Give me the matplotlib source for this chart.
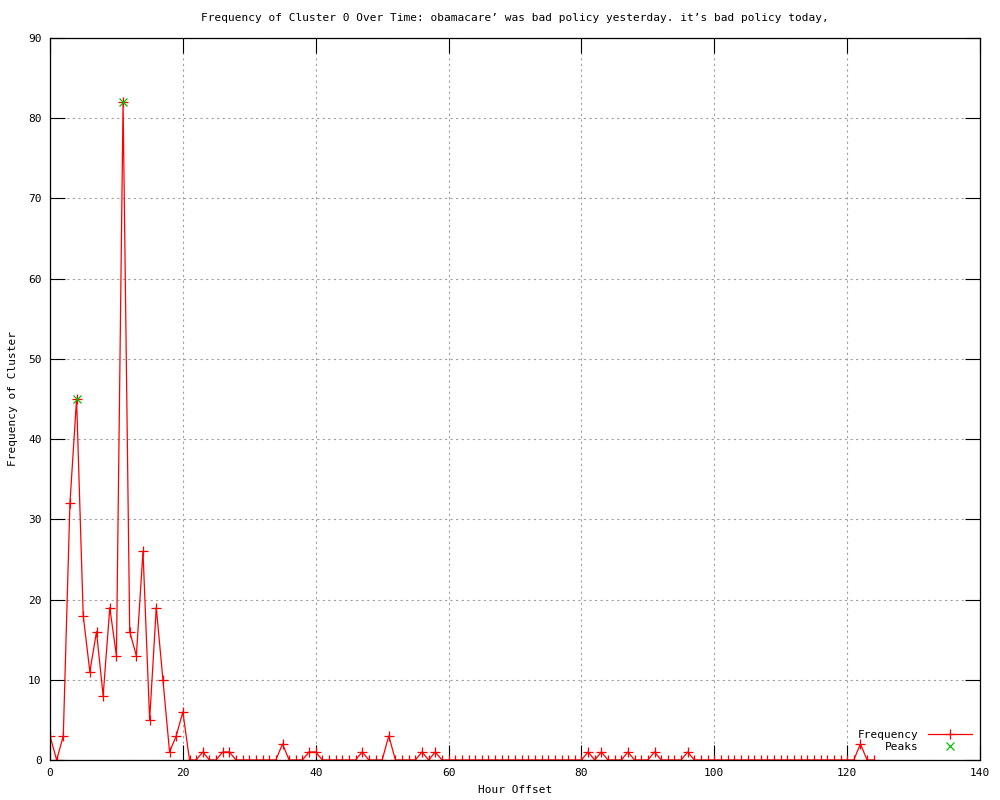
import matplotlib.pyplot as plt

# hourly frequency of cluster 0
hours = list(range(125))
freq = [3, 0, 3, 32, 45, 18, 11, 16, 8, 19,
        13, 82, 16, 13, 26, 5, 19, 10, 1, 3,
        6, 0, 0, 1, 0, 0, 1, 1, 0, 0,
        0, 0, 0, 0, 0, 2, 0, 0, 0, 1,
        1, 0, 0, 0, 0, 0, 0, 1, 0, 0,
        0, 3, 0, 0, 0, 0, 1, 0, 1, 0,
        0, 0, 0, 0, 0, 0, 0, 0, 0, 0,
        0, 0, 0, 0, 0, 0, 0, 0, 0, 0,
        0, 1, 0, 1, 0, 0, 0, 1, 0, 0,
        0, 1, 0, 0, 0, 0, 1, 0, 0, 0,
        0, 0, 0, 0, 0, 0, 0, 0, 0, 0,
        0, 0, 0, 0, 0, 0, 0, 0, 0, 0,
        0, 0, 2, 0, 0]
peak_hours = [4, 11]
peak_vals = [45, 82]

title = "Frequency of Cluster 0 Over Time: obamacare\u2019 was bad policy yesterday. it\u2019s bad policy today,"

plt.rcParams['font.family'] = ['DejaVu Sans Mono']
plt.rcParams['font.size'] = 8

fig = plt.figure(figsize=(10, 8), dpi=100)
ax = fig.add_axes([0.05, 0.05, 0.93, 0.9025])

ax.plot(hours, freq, color='red', lw=0.9, marker='+', ms=7, mew=0.9, label='Frequency')
ax.plot(peak_hours, peak_vals, ls='none', color='#00c000', marker='x', ms=6, mew=0.9, label='Peaks')

ax.set_xlim(0, 140)
ax.set_ylim(0, 90)
ax.set_xticks(range(0, 141, 20))
ax.set_yticks(range(0, 91, 10))
ax.tick_params(direction='in', length=11, width=0.8, top=True, right=True, labelsize=8, pad=6)
ax.grid(True, color='#a0a0a0', ls=(0, (2, 3)), lw=0.8)
for s in ax.spines.values():
    s.set_linewidth(0.9)

ax.set_title(title, fontsize=8, pad=12)
ax.set_xlabel('Hour Offset', fontsize=8, labelpad=5)
ax.set_ylabel('Frequency of Cluster', fontsize=8, labelpad=7)

leg = ax.legend(loc='lower right', frameon=False, markerfirst=False, fontsize=8,
                handlelength=4, borderaxespad=0.3, labelspacing=0.2)

fig.savefig('out.png')
